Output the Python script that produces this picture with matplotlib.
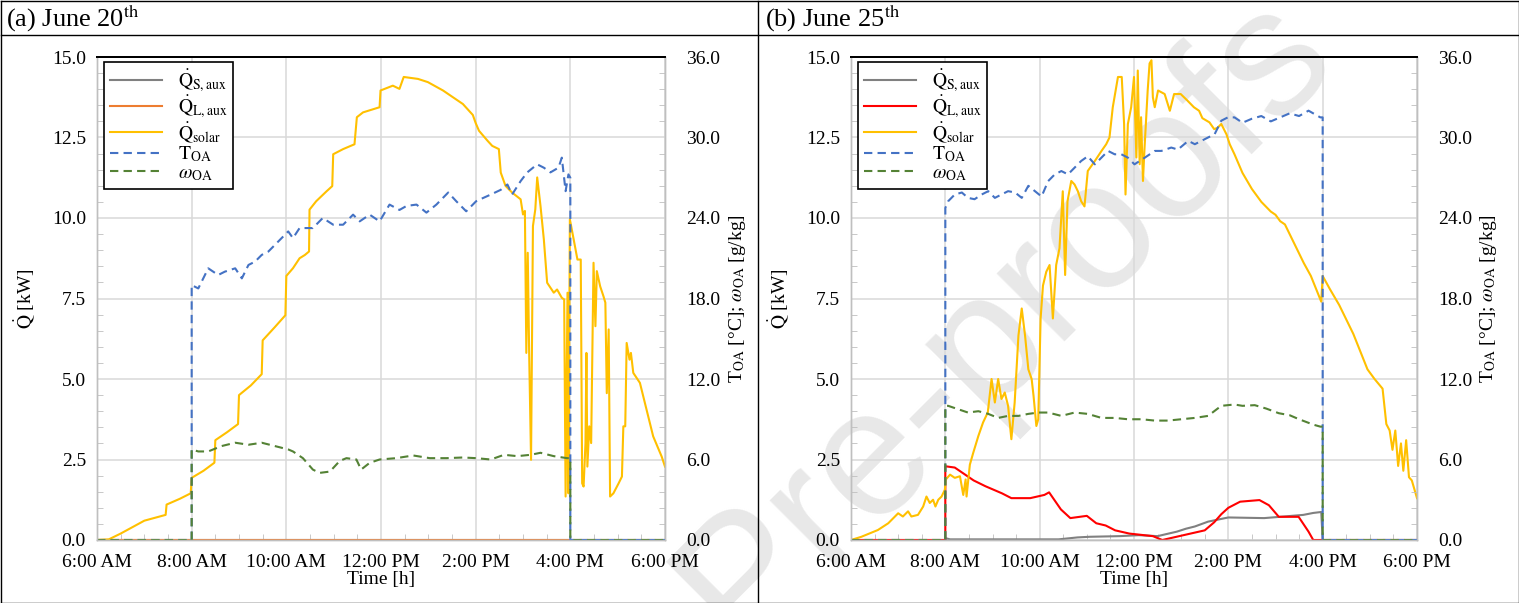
import matplotlib
matplotlib.use('Agg')
import matplotlib.pyplot as plt
import matplotlib.ticker as ticker
from matplotlib.lines import Line2D

plt.rcParams['font.family'] = ['Liberation Serif', 'DejaVu Serif']
plt.rcParams['mathtext.fontset'] = 'stix'

hour_ticks = [6, 8, 10, 12, 14, 16, 18]
hour_labels = ['6:00 AM', '8:00 AM', '10:00 AM', '12:00 PM', '2:00 PM', '4:00 PM', '6:00 PM']

# ---- (a) June 20th ----
a_aux_t = [6.0, 18.0]
a_qs = [0.0, 0.0]
a_ql = [0.0, 0.0]

a_solar_t = [6.0, 6.25, 6.5, 6.75, 7.0, 7.25, 7.45, 7.47, 7.75, 7.98, 8.0, 8.25, 8.48, 8.5, 8.75, 8.98,
             9.0, 9.25, 9.48, 9.5, 9.75, 9.98, 10.0, 10.14, 10.28, 10.39, 10.48, 10.49, 10.63, 10.85,
             10.97, 10.99, 11.2, 11.44, 11.49, 11.62, 11.97, 11.99, 12.25, 12.39, 12.48, 12.78, 12.99,
             13.31, 13.52, 13.73, 13.94, 14.0, 14.07, 14.25, 14.35, 14.49, 14.53, 14.63, 14.77, 14.95,
             15.0, 15.04, 15.07, 15.1, 15.13, 15.17, 15.21, 15.26, 15.3, 15.37, 15.44, 15.51, 15.65,
             15.72, 15.82, 15.87, 15.9, 15.94, 15.96, 15.99, 16.07, 16.15, 16.22, 16.25, 16.28, 16.32,
             16.34, 16.36, 16.4, 16.44, 16.49, 16.53, 16.56, 16.63, 16.7, 16.74, 16.77, 16.81, 16.84,
             16.91, 17.02, 17.09, 17.12, 17.16, 17.19, 17.25, 17.28, 17.33, 17.47, 17.61, 17.75, 17.93, 18.0]
a_solar = [0.0, 0.02, 0.2, 0.4, 0.6, 0.7, 0.78, 1.1, 1.28, 1.45, 1.93, 2.15, 2.4, 3.1, 3.35, 3.6,
           4.5, 4.8, 5.15, 6.2, 6.6, 6.98, 8.2, 8.44, 8.75, 8.85, 8.96, 10.26, 10.52, 10.83,
           10.99, 11.98, 12.14, 12.29, 13.13, 13.28, 13.44, 13.96, 14.11, 14.01, 14.38, 14.32, 14.22,
           13.96, 13.75, 13.54, 13.2, 12.95, 12.71, 12.4, 12.24, 12.14, 11.41, 11.0, 10.79, 10.58,
           10.11, 10.22, 5.81, 8.92, 5.81, 2.49, 9.75, 10.27, 11.26, 10.37, 9.34, 7.99, 7.68,
           7.78, 7.52, 7.47, 1.35, 7.68, 1.45, 9.96, 9.34, 8.71, 8.71, 1.76, 1.66, 3.01,
           5.81, 2.28, 3.53, 3.01, 8.61, 6.64, 8.35, 7.88, 7.57, 7.37, 4.56, 6.54, 1.35,
           1.45, 1.76, 1.97, 3.53, 3.53, 6.12, 5.6, 5.81, 5.19, 4.88, 4.05, 3.22, 2.59, 2.28]

a_toa_t = [6.0, 8.0, 8.0, 8.14, 8.35, 8.56, 8.7, 8.92, 9.06, 9.2, 9.34, 9.48, 9.62, 9.76, 9.9, 10.04,
           10.14, 10.28, 10.42, 10.56, 10.77, 10.99, 11.2, 11.41, 11.55, 11.76, 11.97, 12.18, 12.39,
           12.54, 12.75, 12.96, 13.17, 13.42, 13.59, 13.8, 14.01, 14.1, 14.32, 14.53, 14.67, 14.77,
           14.95, 15.09, 15.3, 15.44, 15.58, 15.75, 15.82, 15.9, 15.96, 16.0, 16.0, 18.0]
a_toa = [0, 0, 19.0, 18.75, 20.25, 19.75, 20.0, 20.25, 19.5, 20.5, 20.75, 21.25, 21.5, 22.0, 22.5, 23.0,
         22.5, 23.25, 23.25, 23.25, 24.0, 23.5, 23.5, 24.25, 23.75, 24.25, 23.75, 25.0, 24.6,
         24.9, 25.0, 24.4, 25.0, 25.9, 25.25, 24.5, 25.25, 25.4, 25.75, 26.1, 26.5, 25.75,
         26.75, 27.4, 28.0, 27.75, 27.4, 27.75, 28.5, 26.0, 27.25, 27.0, 0, 0]

a_woa_t = [6.0, 8.0, 8.0, 8.14, 8.35, 8.63, 8.92, 9.2, 9.48, 9.76, 10.04, 10.14, 10.35, 10.56, 10.7,
           10.92, 11.13, 11.27, 11.48, 11.58, 11.76, 11.97, 12.32, 12.68, 13.03, 13.38, 13.73, 14.01,
           14.32, 14.6, 14.88, 15.16, 15.37, 15.65, 15.93, 16.0, 16.0, 18.0]
a_woa = [0, 0, 6.75, 6.6, 6.6, 7.0, 7.25, 7.1, 7.25, 7.0, 6.75, 6.6, 6.1, 5.25, 5.0,
         5.1, 5.9, 6.1, 6.0, 5.25, 5.75, 6.0, 6.1, 6.3, 6.1, 6.1, 6.15, 6.1,
         6.0, 6.35, 6.25, 6.35, 6.5, 6.25, 6.1, 6.1, 0, 0]

# ---- (b) June 25th ----
b_qs_t = [6.0, 8.0, 8.02, 8.1, 10.4, 10.8, 11.06, 11.7, 12.1, 12.5, 12.91, 13.1, 13.29, 13.57, 14.0,
          14.76, 15.18, 15.59, 15.8, 15.97, 16.0, 18.0]
b_qs = [0, 0, 0.05, 0.02, 0.02, 0.08, 0.1, 0.12, 0.15, 0.12, 0.26, 0.35, 0.42, 0.57, 0.7,
        0.68, 0.73, 0.78, 0.84, 0.87, 0.0, 0.0]

b_ql_t = [6.0, 8.0, 8.0, 8.2, 8.4, 8.6, 8.85, 9.2, 9.4, 9.8, 10.1, 10.2, 10.45, 10.65, 11.0, 11.2,
          11.4, 11.6, 11.9, 12.4, 12.6, 12.9, 13.2, 13.5, 13.7, 13.85, 14.0, 14.25, 14.66, 14.86,
          15.07, 15.49, 15.7, 15.8, 18.0]
b_ql = [0, 0, 2.29, 2.25, 2.05, 1.85, 1.67, 1.45, 1.3, 1.3, 1.4, 1.48, 0.95, 0.68, 0.75, 0.52,
        0.45, 0.3, 0.2, 0.12, 0.0, 0.1, 0.2, 0.3, 0.55, 0.8, 1.0, 1.19, 1.24, 1.08,
        0.72, 0.72, 0.26, 0.0, 0.0]

b_solar_t = [6.0, 6.22, 6.57, 6.79, 7.0, 7.1, 7.21, 7.28, 7.42, 7.53, 7.6, 7.67, 7.74, 7.79, 7.85,
             7.92, 7.99, 8.01, 8.1, 8.2, 8.31, 8.38, 8.43, 8.45, 8.52, 8.59, 8.7, 8.8, 8.9, 8.98,
             9.05, 9.12, 9.19, 9.26, 9.33, 9.4, 9.47, 9.55, 9.62, 9.69, 9.76, 9.83, 9.87, 9.93,
             9.97, 10.0, 10.02, 10.07, 10.14, 10.21, 10.28, 10.35, 10.42, 10.49, 10.54, 10.59,
             10.67, 10.74, 10.81, 10.88, 10.95, 11.02, 11.17, 11.31, 11.41, 11.48, 11.55, 11.66,
             11.74, 11.79, 11.82, 11.87, 11.94, 12.0, 12.05, 12.08, 12.12, 12.15, 12.19, 12.22,
             12.29, 12.33, 12.37, 12.4, 12.44, 12.51, 12.65, 12.76, 12.85, 12.99, 13.13, 13.27,
             13.38, 13.45, 13.6, 13.7, 13.77, 13.85, 13.96, 14.03, 14.13, 14.3, 14.5, 14.7, 14.9,
             15.0, 15.1, 15.2, 15.4, 15.6, 15.75, 15.97, 16.0, 16.15, 16.35, 16.65, 16.95, 17.1,
             17.27, 17.35, 17.42, 17.48, 17.54, 17.6, 17.66, 17.71, 17.77, 17.83, 17.89, 17.94, 18.0]
b_solar = [0.0, 0.1, 0.31, 0.52, 0.83, 0.73, 0.89, 0.73, 0.78, 1.04, 1.35, 1.15, 1.25, 1.04, 1.25,
           1.35, 1.56, 1.88, 2.03, 1.93, 1.98, 1.4, 1.88, 1.35, 2.34, 2.7, 3.23, 3.65, 3.96, 5.0,
           4.27, 5.0, 4.38, 4.58, 4.17, 3.13, 4.27, 6.35, 7.19, 6.35, 5.3, 5.0, 4.48, 3.54,
           3.75, 5.63, 6.88, 7.9, 8.33, 8.54, 6.88, 8.54, 9.06, 10.83, 8.23, 10.52,
           11.15, 11.04, 10.83, 10.52, 10.36, 11.46, 11.77, 12.08, 12.29, 12.5, 13.44, 14.38,
           14.38, 12.92, 10.73, 12.92, 13.44, 14.38, 11.88, 14.58, 11.67, 13.13, 11.15, 12.08,
           13.96, 14.8, 14.9, 13.75, 13.44, 13.96, 13.85, 13.33, 13.85, 13.85, 13.65, 13.44,
           13.33, 13.1, 12.97, 12.76, 12.8, 12.92, 12.6, 12.29, 11.98, 11.4, 10.9, 10.5, 10.2,
           10.1, 9.9, 9.8, 9.2, 8.6, 8.2, 7.4, 8.2, 7.8, 7.3, 6.4, 5.3, 5.0,
           4.7, 3.6, 3.4, 2.8, 3.4, 2.3, 3.0, 2.15, 3.1, 1.95, 1.85, 1.6, 1.3]

b_toa_t = [6.0, 8.0, 8.0, 8.06, 8.2, 8.35, 8.48, 8.62, 8.77, 8.91, 9.05, 9.19, 9.33, 9.48, 9.62, 9.76,
           9.9, 10.04, 10.18, 10.32, 10.46, 10.6, 10.74, 10.88, 11.02, 11.17, 11.31, 11.45, 11.59,
           11.73, 11.87, 12.01, 12.23, 12.44, 12.58, 12.79, 12.93, 13.15, 13.29, 13.43, 13.57,
           13.71, 13.85, 13.99, 14.13, 14.3, 14.5, 14.7, 14.9, 15.1, 15.3, 15.5, 15.7, 15.85,
           15.95, 16.0, 16.0, 18.0]
b_toa = [0, 0, 24.75, 25.25, 25.75, 25.9, 25.5, 25.4, 25.75, 26.0, 25.5, 25.75, 26.0, 25.9, 25.5, 26.4,
         26.0, 25.6, 26.75, 27.25, 27.5, 27.25, 27.75, 28.25, 28.6, 28.0, 28.5, 29.0, 28.75,
         28.75, 28.5, 28.0, 28.5, 29.0, 29.0, 29.25, 29.1, 29.75, 29.5, 29.75, 30.0,
         30.25, 31.25, 31.5, 31.5, 31.1, 31.4, 31.6, 31.2, 31.5, 31.8, 31.6, 32.0, 31.7,
         31.5, 31.5, 0, 0]

b_woa_t = [6.0, 8.0, 8.0, 8.06, 8.27, 8.48, 8.7, 8.91, 9.12, 9.33, 9.55, 9.76, 9.97, 10.18, 10.46,
           10.74, 11.02, 11.31, 11.59, 11.87, 12.16, 12.44, 12.72, 13.0, 13.29, 13.57, 13.85,
           14.13, 14.3, 14.56, 14.8, 15.07, 15.3, 15.5, 15.8, 15.95, 16.0, 16.0, 18.0]
b_woa = [0, 0, 10.0, 10.0, 9.75, 9.5, 9.6, 9.4, 9.1, 9.25, 9.25, 9.4, 9.5, 9.5, 9.25,
         9.5, 9.4, 9.1, 9.1, 9.0, 9.0, 8.9, 8.9, 9.0, 9.1, 9.25, 10.0,
         10.1, 10.0, 10.05, 9.8, 9.45, 9.3, 9.0, 8.6, 8.45, 8.45, 0, 0]

W, H = 1519, 603
fig = plt.figure(figsize=(W / 100, H / 100), dpi=100)

grid_c = '#d9d9d9'
spine_c = '#bfbfbf'
fs = 14


def draw_panel(x0, x1, qs_t, qs, ql_t, ql, ql_color, sol_t, sol, toa_t, toa, woa_t, woa):
    ax = fig.add_axes([x0 / W, (H - 540) / H, (x1 - x0) / W, 483 / H])
    ax.set_facecolor('none')
    ax2 = ax.twinx()

    l1, = ax.plot(qs_t, qs, color='#808080', lw=1.5, label=r'$\dot{\mathrm{Q}}_{\mathrm{S,aux}}$')
    l2, = ax.plot(ql_t, ql, color=ql_color, lw=1.5, label=r'$\dot{\mathrm{Q}}_{\mathrm{L,aux}}$')
    l3, = ax.plot(sol_t, sol, color='#ffc000', lw=1.5, label=r'$\dot{\mathrm{Q}}_{\mathrm{solar}}$')
    l4, = ax2.plot(toa_t, toa, color='#4472c4', lw=1.5, ls=(0, (4, 2.5)), label=r'$\mathrm{T}_{\mathrm{OA}}$')
    l5, = ax2.plot(woa_t, woa, color='#548235', lw=1.5, ls=(0, (4, 2.5)), label=r'$\omega_{\mathrm{OA}}$')

    ax.set_xlim(6, 18)
    ax.set_ylim(0, 15)
    ax2.set_ylim(0, 36)
    ax.set_xticks(hour_ticks)
    ax.set_xticklabels(hour_labels)
    ax.xaxis.set_minor_locator(ticker.MultipleLocator(0.5))
    ax.yaxis.set_major_locator(ticker.MultipleLocator(2.5))
    ax.yaxis.set_minor_locator(ticker.MultipleLocator(0.5))
    ax.yaxis.set_major_formatter(ticker.FormatStrFormatter('%.1f'))
    ax2.yaxis.set_major_locator(ticker.MultipleLocator(6))
    ax2.yaxis.set_minor_locator(ticker.MultipleLocator(1.2))
    ax2.yaxis.set_major_formatter(ticker.FormatStrFormatter('%.1f'))

    ax.grid(True, which='major', color=grid_c, lw=1.1)
    ax.set_axisbelow(True)
    for a in (ax, ax2):
        for s in ('left', 'right', 'bottom'):
            a.spines[s].set_color(spine_c)
            a.spines[s].set_linewidth(1.0)
        a.spines['top'].set_color('black')
        a.spines['top'].set_linewidth(1.4)
        a.tick_params(which='both', direction='in', color=spine_c, labelsize=fs)
        a.tick_params(which='major', length=0)
        a.tick_params(which='minor', length=4)
    ax.tick_params(axis='y', pad=8)
    ax.tick_params(axis='x', pad=10)
    ax2.tick_params(axis='y', pad=15)

    ax.set_xlabel('Time [h]', fontsize=fs, labelpad=0)
    ax.text(-0.128, 0.5, r'$\dot{\mathrm{Q}}$ [kW]', transform=ax.transAxes, rotation=90,
            ha='center', va='center', fontsize=fs)
    ax.text(1.127, 0.5, r'T$_{\mathrm{OA}}$ [°C]; $\omega_{\mathrm{OA}}$ [g/kg]', transform=ax.transAxes,
            rotation=90, ha='center', va='center', fontsize=fs)

    leg = ax2.legend(handles=[l1, l2, l3, l4, l5], loc='upper left', bbox_to_anchor=(0.012, 0.99),
                     borderaxespad=0, fontsize=14, fancybox=False, framealpha=1, edgecolor='black',
                     handlelength=2.7, labelspacing=0.0, borderpad=0.3, handletextpad=0.8)
    leg.get_frame().set_linewidth(1.2)
    return ax


draw_panel(97, 665, a_aux_t, a_qs, a_aux_t, a_ql, '#ed7d31',
           a_solar_t, a_solar, a_toa_t, a_toa, a_woa_t, a_woa)
draw_panel(851, 1417, b_qs_t, b_qs, b_ql_t, b_ql, '#ff0000',
           b_solar_t, b_solar, b_toa_t, b_toa, b_woa_t, b_woa)

# table frame around the two panels
frame_lines = [([0.5, W - 0.5], [0.5, 0.5]), ([0.5, W - 0.5], [H - 0.5, H - 0.5]),
               ([0.5, 0.5], [0.5, H - 0.5]), ([W - 0.5, W - 0.5], [0.5, H - 0.5]),
               ([0.5, W - 0.5], [H - 35, H - 35]), ([758, 758], [0.5, H - 0.5])]
for xs, ys in frame_lines:
    fig.add_artist(Line2D([x / W for x in xs], [y / H for y in ys], color='black', lw=1.0))

fig.text(6 / W, 1 - 18 / H, r'(a) June 20$^{\mathrm{th}}$', fontsize=19, va='center', ha='left')
fig.text(765 / W, 1 - 18 / H, r'(b) June 25$^{\mathrm{th}}$', fontsize=19, va='center', ha='left')

# watermark
fig.text(1005 / W, 1 - 320 / H, 'Pre-proofs', rotation=45, fontsize=130, color='#e8e8e8',
         family='Liberation Sans', ha='center', va='center', zorder=-1)

fig.savefig('out.png', dpi=100)
